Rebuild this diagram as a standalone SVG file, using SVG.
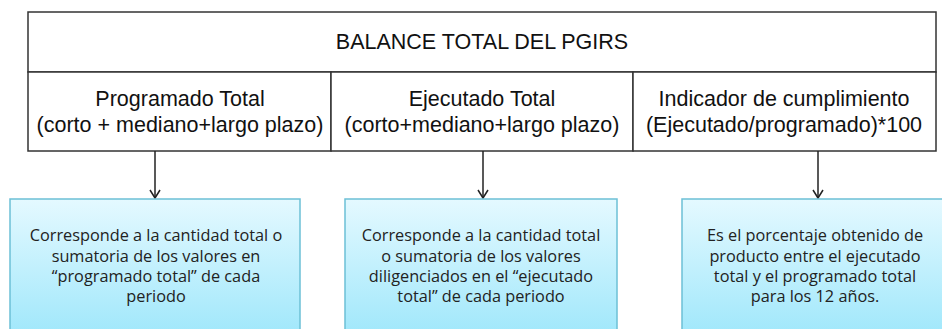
<svg xmlns="http://www.w3.org/2000/svg" width="942" height="329" viewBox="0 0 942 329">
<defs>
<linearGradient id="g" x1="0" y1="0" x2="0" y2="1">
<stop offset="0" stop-color="#e4f9ff"/>
<stop offset="1" stop-color="#9ee7fb"/>
</linearGradient>
</defs>
<style>
.cell{fill:#fff;stroke:#333;stroke-width:1.5}
.t{font-family:"Liberation Sans",Arial,sans-serif;font-size:21.5px;fill:#111;text-anchor:middle}
.h{font-family:"Liberation Sans",Arial,sans-serif;font-size:21.5px;fill:#111;text-anchor:middle}
.box{fill:url(#g);stroke:#6cc0d6;stroke-width:1.5}
.b{font-family:"Open Sans","Liberation Sans",sans-serif;font-size:16.3px;fill:#222;text-anchor:middle}
.c{stroke:#222;stroke-width:1.5;fill:none}
</style>
<rect width="942" height="329" fill="#fff"/>
<g id="title">
<rect class="cell" x="28" y="12" width="908" height="60"/>
<text class="h" x="482" y="49">BALANCE TOTAL DEL PGIRS</text>
</g>
<g id="programado">
<rect class="cell" x="28" y="72" width="303" height="79"/>
<text class="t" x="180" y="106">Programado Total</text>
<text class="t" x="180" y="132">(corto + mediano+largo plazo)</text>
</g>
<g id="ejecutado">
<rect class="cell" x="331" y="72" width="302" height="79"/>
<text class="t" x="482" y="106">Ejecutado Total</text>
<text class="t" x="482" y="132">(corto+mediano+largo plazo)</text>
</g>
<g id="indicador">
<rect class="cell" x="633" y="72" width="303" height="79"/>
<text class="t" x="784" y="106">Indicador de cumplimiento</text>
<text class="t" x="784" y="132">(Ejecutado/programado)*100</text>
</g>
<g id="connectors">
<line class="c" x1="155" y1="151" x2="155" y2="198"/>
<polyline class="c" points="150,190 155,198 160,190"/>
<line class="c" x1="483" y1="151" x2="483" y2="198"/>
<polyline class="c" points="478,190 483,198 488,190"/>
<line class="c" x1="818" y1="151" x2="818" y2="198"/>
<polyline class="c" points="813,190 818,198 823,190"/>
</g>
<g id="desc1">
<rect class="box" x="10" y="199" width="290" height="140"/>
<text class="b" x="156" y="241">Corresponde a la cantidad total o</text>
<text class="b" x="156" y="262">sumatoria de los valores en</text>
<text class="b" x="156" y="282">“programado total” de cada</text>
<text class="b" x="156" y="302">periodo</text>
</g>
<g id="desc2">
<rect class="box" x="345" y="199" width="272" height="140"/>
<text class="b" x="481" y="241">Corresponde a la cantidad total</text>
<text class="b" x="481" y="262">o  sumatoria de los valores</text>
<text class="b" x="481" y="282">diligenciados en el “ejecutado</text>
<text class="b" x="481" y="302">total” de cada periodo</text>
</g>
<g id="desc3">
<rect class="box" x="682" y="199" width="270" height="140"/>
<text class="b" x="815" y="241">Es el porcentaje obtenido de</text>
<text class="b" x="815" y="262">producto entre el ejecutado</text>
<text class="b" x="815" y="282">total y el programado total</text>
<text class="b" x="815" y="302">para los 12 años.</text>
</g>
</svg>
